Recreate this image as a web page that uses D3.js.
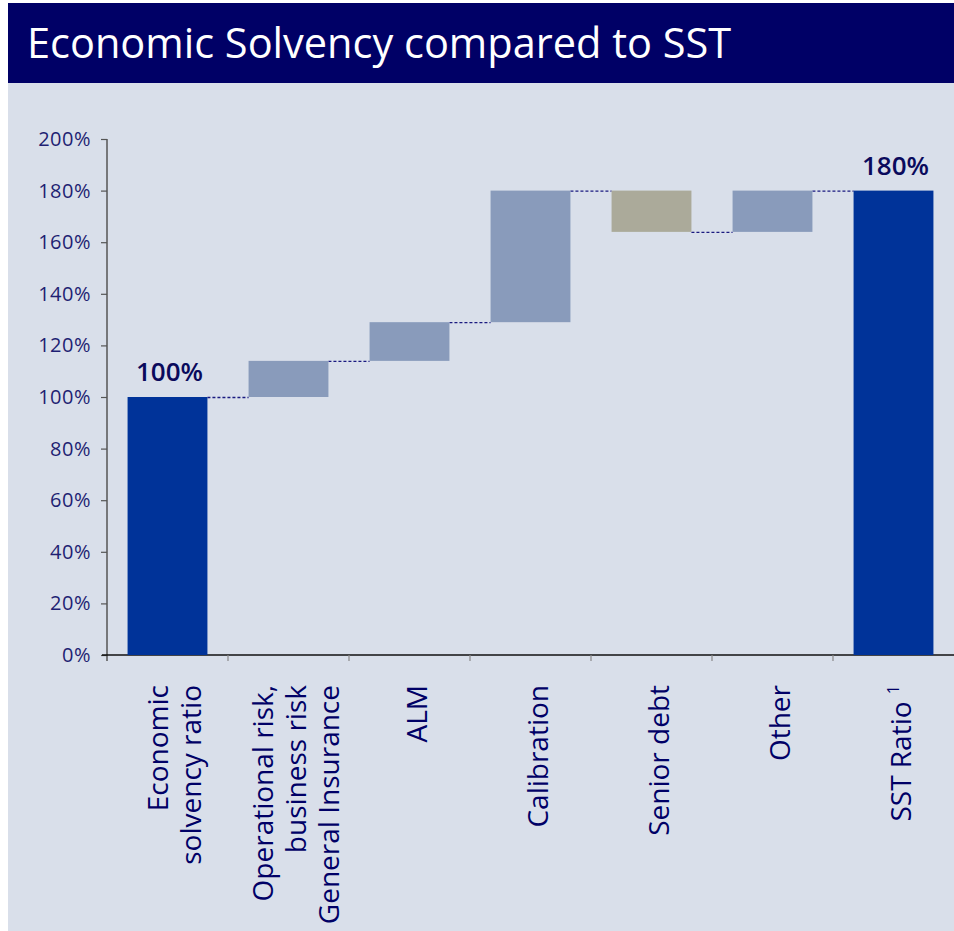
<!DOCTYPE html>
<html>
<head>
<meta charset="utf-8">
<script src="https://cdn.jsdelivr.net/npm/d3@7"></script>
<style>
  html, body { margin: 0; padding: 0; background: #ffffff; }
  svg { display: block; font-family: "Open Sans", sans-serif; }
</style>
</head>
<body>
<svg id="chart" width="954" height="931"></svg>
<script>
// Waterfall: economic solvency ratio bridged to the SST ratio
const categories = [
  "Economic solvency ratio",
  "Operational risk, business risk General Insurance",
  "ALM",
  "Calibration",
  "Senior debt",
  "Other",
  "SST Ratio"
];
const labelLines = [
  ["Economic", "solvency ratio"],
  ["Operational risk,", "business risk", "General Insurance"],
  ["ALM"],
  ["Calibration"],
  ["Senior debt"],
  ["Other"],
  ["SST Ratio"]
];
const labelNotes = ["", "", "", "", "", "", "1"];
const values = [100, 14, 15, 51, -16, 16, 180];          // % points
const kinds = ["total", "delta", "delta", "delta", "delta", "delta", "total"];
const yTicks = [0, 20, 40, 60, 80, 100, 120, 140, 160, 180, 200];
const title = "Economic Solvency compared to SST";

const colors = { total: "#003399", up: "#899BBB", down: "#ABAA9A" };
const navy = "#000066";

// running levels for the floating bars
let level = 0;
const bars = values.map((v, i) => {
  let y0, y1;
  if (kinds[i] === "total") { y0 = 0; y1 = v; level = v; }
  else { y0 = level; y1 = level + v; level = y1; }
  return {
    cat: categories[i], lines: labelLines[i], note: labelNotes[i],
    kind: kinds[i], value: v, y0, y1, end: level
  };
});

const svg = d3.select("#chart");

// panel backgrounds
svg.append("rect").attr("x", 8).attr("y", 3).attr("width", 946).attr("height", 928)
  .attr("fill", "#D9DFEA");
svg.append("rect").attr("x", 8).attr("y", 3).attr("width", 946).attr("height", 80)
  .attr("fill", navy);
svg.append("text").attr("x", 27).attr("y", 58)
  .attr("fill", "#ffffff").attr("font-size", 41.5).text(title);

const x = d3.scaleBand().domain(categories).range([107, 954])
  .paddingInner(0.34).paddingOuter(0.17);
const y = d3.scaleLinear().domain([0, 200]).range([655, 139]);
const step = x.step();
const bandStart = c => x(c) - x.paddingOuter() * step;

// y axis
const yAxis = svg.append("g").attr("transform", "translate(107,0)")
  .call(d3.axisLeft(y).tickValues(yTicks).tickFormat(d => d + "%")
    .tickSizeInner(6).tickSizeOuter(0).tickPadding(10));
yAxis.select(".domain").attr("stroke", "#555").attr("stroke-width", 1.5)
  .attr("d", `M0,${y(200)}V${y(0) + 6}`);
yAxis.selectAll(".tick line").attr("stroke", "#555").attr("stroke-width", 1.2);
yAxis.selectAll(".tick text").attr("fill", "#1F1F73").attr("font-size", 20)
  .attr("font-family", "Open Sans, sans-serif").attr("letter-spacing", 0.5);

// x axis baseline and category separators
svg.append("line").attr("x1", 102).attr("x2", 954)
  .attr("y1", y(0)).attr("y2", y(0)).attr("stroke", "#111").attr("stroke-width", 1.5);
svg.append("g").selectAll("line").data(categories.slice(1)).join("line")
  .attr("x1", c => bandStart(c)).attr("x2", c => bandStart(c))
  .attr("y1", y(0)).attr("y2", y(0) + 6)
  .attr("stroke", "#888").attr("stroke-width", 1.2);

// dotted connectors between consecutive bars
const conn = bars.slice(0, -1).map((b, i) => ({
  x1: x(b.cat) + x.bandwidth(), x2: x(bars[i + 1].cat), v: b.end
}));
svg.append("g").selectAll("line").data(conn).join("line")
  .attr("x1", d => d.x1).attr("x2", d => d.x2)
  .attr("y1", d => y(d.v) + 0.5).attr("y2", d => y(d.v) + 0.5)
  .attr("stroke", "#1A1A80").attr("stroke-width", 1.3)
  .attr("stroke-dasharray", "3,2");

// bars
svg.append("g").selectAll("rect").data(bars).join("rect")
  .attr("x", d => x(d.cat)).attr("width", x.bandwidth())
  .attr("y", d => y(Math.max(d.y0, d.y1)))
  .attr("height", d => Math.abs(y(d.y0) - y(d.y1)))
  .attr("fill", d => d.kind === "total" ? colors.total : (d.value >= 0 ? colors.up : colors.down));

// value labels on the totals
svg.append("g").selectAll("text").data(bars.filter(d => d.kind === "total")).join("text")
  .attr("x", d => x(d.cat) + x.bandwidth() / 2 + 2)
  .attr("y", d => y(d.y1) - 16)
  .attr("text-anchor", "middle").attr("font-size", 26).attr("font-weight", 600)
  .attr("fill", "#0A0A5C").text(d => d.value + "%");

// rotated category labels
const lineGap = 33;
const lab = svg.append("g").selectAll("g").data(bars).join("g")
  .attr("transform", d => `translate(${x(d.cat) + x.bandwidth() / 2},685) rotate(-90)`);
lab.each(function (d) {
  const g = d3.select(this);
  const n = d.lines.length;
  const t = g.append("text").attr("text-anchor", "end")
    .attr("font-size", 28).attr("fill", navy);
  d.lines.forEach((ln, i) => {
    const ts = t.append("tspan").attr("x", 0)
      .attr("y", 17 + (i - (n - 1) / 2) * lineGap).text(ln);
    if (d.note && i === n - 1) {
      ts.text(ln + " ");
      t.append("tspan").attr("font-size", 16).attr("dy", -12).text(d.note);
    }
  });
});
</script>
</body>
</html>
